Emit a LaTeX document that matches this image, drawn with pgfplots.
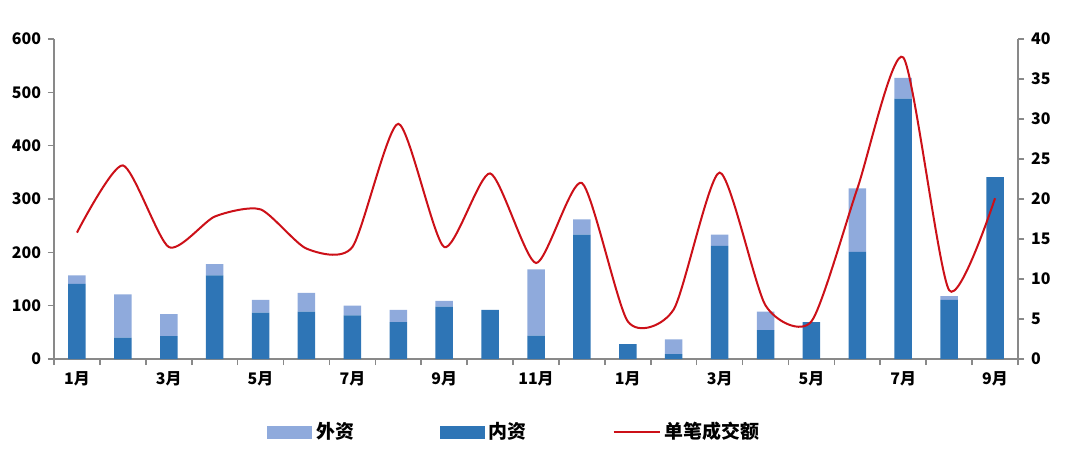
\documentclass[border=0pt]{standalone}
\usepackage{fontspec}
\setmainfont{Noto Sans CJK SC}
\usepackage{pgfplots}
\usepackage{pgfplotstable}
\pgfplotsset{compat=1.18}

\definecolor{neizi}{RGB}{46,117,182}
\definecolor{waizi}{RGB}{143,170,220}
\definecolor{danbi}{RGB}{204,16,24}
\definecolor{axgray}{RGB}{137,137,137}

% month  inner  outer  per-deal
\pgfplotstableread{
x  nei  wai  dan
1  141  16   15.8
2  40   81   24.2
3  43   41   14.0
4  157  21   17.8
5  87   24   18.7
6  89   35   13.8
7  82   18   14.0
8  69   23   29.4
9  98   11   14.0
10 92   0    23.2
11 44   124  12.0
12 233  29   22.0
13 28   0    4.7
14 9    28   6.2
15 212  21   23.3
16 54   35   6.7
17 69   0    4.7
18 201  119  21.3
19 488  39   37.7
20 111  7    8.6
21 341  0    20.1
}\deals

\pgfplotsset{
  common/.style={
    scale only axis, width=482bp, height=160bp,
    at={(0,0)}, anchor=south west,
    xmin=0.5, xmax=21.5,
    tick align=outside,
    major tick length=3bp, minor tick length=3bp,
    axis line style={draw=axgray, line width=0.8bp},
    every tick/.style={draw=axgray, line width=0.8bp},
    tick label style={font=\fontsize{8}{9}\selectfont\bfseries},
    /pgf/number format/assume math mode=true,
  },
}

\begin{document}
\begin{tikzpicture}
\path[use as bounding box] (-27bp,-45bp) rectangle (513bp,179.5bp);
\begin{axis}[common,
    axis x line*=bottom, axis y line*=left,
    ymin=0, ymax=600, ytick={0,100,...,600},
    xtick={1,3,...,21},
    xticklabels={1月,3月,5月,7月,9月,11月,1月,3月,5月,7月,9月},
    minor xtick={0.5,1.5,...,21.5},
    major x tick style={draw=none},
    ybar stacked, bar width=8.75bp,
    legend columns=3,
    legend style={at={(0.221,-0.228)}, anchor=west, draw=none, fill=none,
      inner sep=0pt,
      font=\fontsize{9.5}{11}\selectfont\bfseries,
      /tikz/every even column/.append style={column sep=41bp}},
  ]
  \addlegendimage{legend image code/.code={\fill[waizi] (0bp,-3bp) rectangle (22bp,3bp);}}
  \addlegendimage{legend image code/.code={\fill[neizi] (0bp,-3bp) rectangle (22bp,3bp);}}
  \addlegendimage{legend image code/.code={\draw[danbi, line width=1bp] (0bp,0bp) -- (23bp,0bp);}}
  \legend{外资,内资,单笔成交额}
  \addplot[fill=neizi, draw=none] table[x=x, y=nei] {\deals};
  \addplot[fill=waizi, draw=none] table[x=x, y=wai] {\deals};
\end{axis}
\begin{axis}[common,
    axis x line=none, axis y line*=right,
    ymin=0, ymax=40, ytick={0,5,...,40},
  ]
  \addplot[danbi, line width=1bp, smooth, tension=0.4, mark=none] table[x=x, y=dan] {\deals};
\end{axis}
\end{tikzpicture}
\end{document}
